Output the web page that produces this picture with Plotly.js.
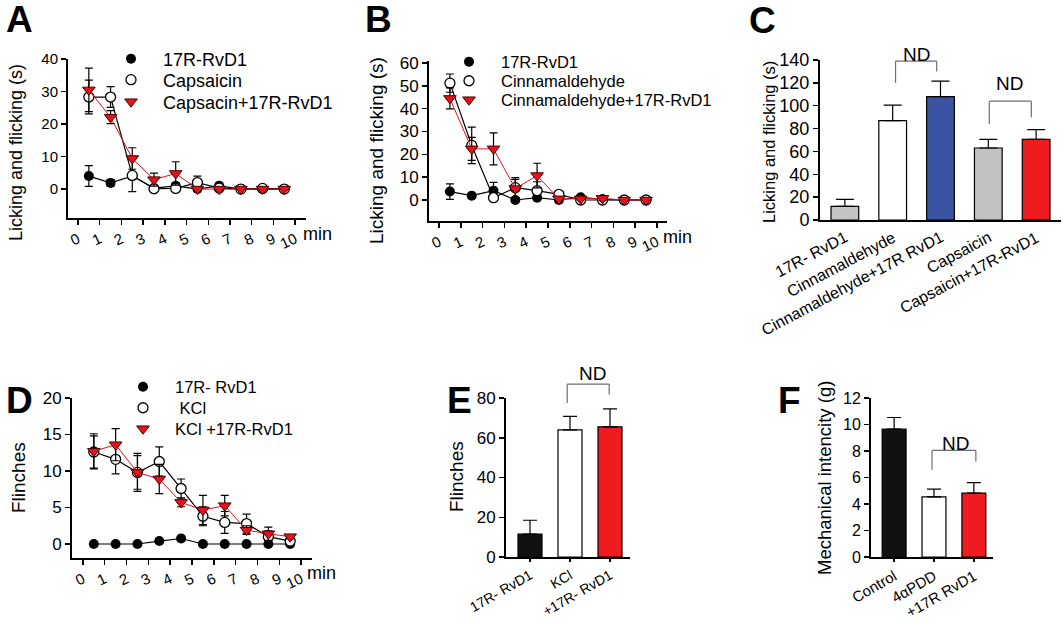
<!DOCTYPE html>
<html><head><meta charset="utf-8">
<script src="https://cdn.plot.ly/plotly-3.0.1.min.js"></script>
<style>html,body{margin:0;padding:0;background:#fff}#chart{width:1063px;height:621px}</style>
</head><body><div id="chart"></div>
<script>
const W = 1063, H = 621;
const FONT = 'Liberation Sans, Arial, sans-serif';

// ---------- shared ----------
const timeMin = [0.5, 1.5, 2.5, 3.5, 4.5, 5.5, 6.5, 7.5, 8.5, 9.5];
const timeTicks = [0, 1, 2, 3, 4, 5, 6, 7, 8, 9, 10];

// ---------- Panel A ----------
const aNames = ['17R-RvD1', 'Capsaicin', 'Capsacin+17R-RvD1'];
const aRvd1 = [4.0, 1.9, 4.0, 0.3, 1.0, 0.0, 1.0, 0.0, 0.0, 0.0];
const aRvd1Err = [3.2, 1.0, 1.0, 0.5, 0.8, 0.3, 0.8, 0.0, 0.0, 0.0];
const aCaps = [28.3, 28.3, 4.2, 0.1, 0.2, 2.0, 0.3, 0.0, 0.2, 0.0];
const aCapsErr = [5.2, 3.2, 5.0, 0.5, 0.5, 2.0, 0.5, 0.0, 0.0, 0.0];
const aComb = [30.5, 22.1, 9.4, 2.9, 4.8, 0.0, 0.0, 0.0, 0.0, 0.0];
const aCombErr = [6.7, 2.0, 3.3, 2.0, 3.6, 0.3, 0.3, 0.0, 0.0, 0.0];

// ---------- Panel B ----------
const bNames = ['17R-RvD1', 'Cinnamaldehyde', 'Cinnamaldehyde+17R-RvD1'];
const bRvd1 = [3.7, 1.9, 4.1, 0.0, 1.0, 0.0, 1.2, 0.3, 0.0, 0.0];
const bRvd1Err = [3.4, 0.8, 3.6, 0.5, 0.8, 0.3, 0.5, 0.3, 0.0, 0.0];
const bCinn = [51.2, 23.9, 1.0, 5.4, 4.1, 2.5, 0.0, 0.0, 0.0, 0.0];
const bCinnErr = [4.0, 8.0, 1.0, 4.4, 3.9, 1.2, 0.5, 0.5, 0.0, 0.0];
const bComb = [44.5, 22.4, 22.4, 5.0, 10.7, 0.5, 0.5, 0.7, 0.0, 0.0];
const bCombErr = [4.6, 5.0, 7.0, 4.0, 5.4, 0.5, 0.5, 1.0, 0.0, 0.0];

// ---------- Panel C ----------
const cCats = ['17R- RvD1', 'Cinnamaldehyde', 'Cinnamaldehyde+17R RvD1', 'Capsaicin', 'Capsaicin+17R-RvD1'];
const cVals = [12, 87, 108, 63, 70.5];
const cErr = [6, 13.5, 13.5, 7.5, 8.5];
const cColors = ['#c4c4c4', '#ffffff', '#3a54a2', '#c2c2c2', '#ee1c1f'];

// ---------- Panel D ----------
const dNames = ['17R- RvD1', '\u00a0KCl', 'KCl +17R-RvD1'];
const dRvd1 = [0, 0, 0, 0.4, 0.75, 0, 0, 0, 0, 0];
const dRvd1Err = [0, 0, 0, 0.3, 0.4, 0, 0, 0, 0, 0];
const dKcl = [12.6, 11.6, 9.8, 11.3, 7.6, 3.8, 2.95, 2.8, 1.0, 0.4];
const dKclErr = [2.2, 2.0, 2.3, 2.0, 1.3, 1.3, 1.5, 1.3, 0.8, 0.4];
const dComb = [12.7, 13.6, 9.8, 8.9, 5.7, 4.65, 5.25, 1.9, 1.4, 1.0];
const dCombErr = [2.4, 2.2, 2.6, 2.0, 0.6, 2.0, 1.4, 0.6, 0.9, 0.3];

// ---------- Panel E ----------
const eCats = ['17R- RvD1', 'KCl', '+17R- RvD1'];
const eVals = [11.5, 64, 65.5];
const eErr = [7, 6.8, 9];
const eColors = ['#111111', '#ffffff', '#ee1c1f'];

// ---------- Panel F ----------
const fCats = ['Control', '4\u03b1PDD', '+17R RvD1'];
const fVals = [9.65, 4.54, 4.82];
const fErr = [0.88, 0.58, 0.8];
const fColors = ['#111111', '#ffffff', '#ee1c1f'];

// ---------- styles ----------
const STY = {
  filled: {marker: {symbol: 'circle', size: 10, color: '#000'}, line: {color: '#000', width: 1.2}},
  open: {marker: {symbol: 'circle', size: 10, color: '#fff', line: {color: '#000', width: 1.3}}, line: {color: '#000', width: 1.2}},
  red: {marker: {symbol: 'triangle-down', size: 11, color: '#e3121b', line: {color: '#4a0000', width: 1}}, line: {color: '#e3121b', width: 1}}
};

// ---------- axes / panel geometry ----------
const panels = {
  1: {xd: [68, 306], yd: [59, 218], xr: [-0.46, 10.5], yr: [-8.9, 40], yt: [0, 10, 20, 30, 40], tf: 15, xf: 15, line: true},
  2: {xd: [429, 667], yd: [61, 221], xr: [-0.46, 10.46], yr: [-9.2, 60.9], yt: [0, 10, 20, 30, 40, 50, 60], tf: 17, xf: 15, line: true},
  3: {xd: [820, 1061], yd: [60, 220], xr: [-0.52, 4.52], yr: [0, 140], yt: [0, 20, 40, 60, 80, 100, 120, 140], tf: 18, xf: 16, line: false, xticks: '', ownLabels: true, cap: 9},
  4: {xd: [72, 312], yd: [398, 558], xr: [-0.5, 10.5], yr: [-1.92, 20], yt: [0, 5, 10, 15, 20], tf: 17, xf: 15, line: true},
  5: {xd: [506, 630], yd: [398, 557], xr: [-0.6, 2.5], yr: [0, 80], yt: [0, 20, 40, 60, 80], tf: 17, xf: 14, line: false, xticks: 'outside', cap: 7},
  6: {xd: [871, 993], yd: [398, 557], xr: [-0.58, 2.48], yr: [0, 12], yt: [0, 2, 4, 6, 8, 10, 12], tf: 16, xf: 15, line: false, xticks: 'outside', cap: 7}
};
// data -> pixel position, through each panel's axis range and domain
function toPaper(k, xv, yv) {
  const p = panels[k];
  const fx = (xv - p.xr[0]) / (p.xr[1] - p.xr[0]);
  const fy = (yv - p.yr[0]) / (p.yr[1] - p.yr[0]);
  const px = p.xd[0] + fx * (p.xd[1] - p.xd[0]);
  const py = p.yd[1] - fy * (p.yd[1] - p.yd[0]);
  return [px, py];
}

const traces = [];
function lineTrace(ax, y, err, kind) {
  traces.push({
    type: 'scatter', mode: 'lines+markers', x: timeMin, y: y,
    xaxis: 'x' + ax, yaxis: 'y' + ax, showlegend: false,
    marker: STY[kind].marker, line: STY[kind].line,
    error_y: {type: 'data', array: err, visible: true, color: '#000', thickness: 1.2, width: 4}
  });
}
let legendCount = 0;
const legends = {};
function legendItem(name, kind, mx, my, fs) {
  legendCount++;
  const key = legendCount === 1 ? 'legend' : 'legend' + legendCount;
  traces.push({type: 'scatter', mode: 'markers', x: [null], y: [null], name: name,
    marker: STY[kind].marker, legend: key, showlegend: true, hoverinfo: 'skip'});
  legends[key] = {x: (mx - 34) / W, y: 1 - my / H, xanchor: 'left', yanchor: 'middle',
    bgcolor: 'rgba(0,0,0,0)', borderwidth: 0, itemwidth: 54,
    font: {family: FONT, size: fs, color: '#000'}};
}
function barTrace(ax, cats, vals, err, colors, w) {
  traces.push({type: 'bar', x: cats, y: vals, xaxis: 'x' + ax, yaxis: 'y' + ax, showlegend: false,
    width: w, marker: {color: colors, line: {color: '#000', width: 1.2}},
    error_y: {type: 'data', symmetric: false, array: err, arrayminus: err.map(() => 0), color: '#000',
      thickness: 1.2, width: panels[ax].cap}});
}

lineTrace(1, aRvd1, aRvd1Err, 'filled');
lineTrace(1, aCaps, aCapsErr, 'open');
lineTrace(1, aComb, aCombErr, 'red');
lineTrace(2, bRvd1, bRvd1Err, 'filled');
lineTrace(2, bCinn, bCinnErr, 'open');
lineTrace(2, bComb, bCombErr, 'red');
barTrace(3, cCats, cVals, cErr, cColors, 0.58);
lineTrace(4, dRvd1, dRvd1Err, 'filled');
lineTrace(4, dKcl, dKclErr, 'open');
lineTrace(4, dComb, dCombErr, 'red');
barTrace(5, eCats, eVals, eErr, eColors, 0.6);
barTrace(6, fCats, fVals, fErr, fColors, 0.6);

const kinds = ['filled', 'open', 'red'];
[[aNames, 133, [59, 80, 102], 18], [bNames, 471, [62, 81, 100], 16.5], [dNames, 145, [387, 408, 429], 16.5]].forEach(([names, mx, rows, fs]) => {
  names.forEach((n, i) => legendItem(n, kinds[i], mx, rows[i], fs));
});

const layout = {
  width: W, height: H, margin: {l: 0, r: 0, t: 0, b: 0},
  paper_bgcolor: '#fff', plot_bgcolor: 'rgba(0,0,0,0)',
  font: {family: FONT, color: '#000'},
  showlegend: true, bargap: 0,
  annotations: [], shapes: []
};
Object.assign(layout, legends);

Object.keys(panels).forEach(k => {
  const p = panels[k];
  const xa = {
    domain: [p.xd[0] / W, p.xd[1] / W], range: p.xr, anchor: 'y' + k,
    showline: true, linecolor: '#000', linewidth: 2, showgrid: false, zeroline: false,
    tickfont: {family: FONT, size: p.xf, color: '#000'}, fixedrange: true
  };
  if (p.line) {
    Object.assign(xa, {tickmode: 'array', tickvals: timeTicks, ticktext: timeTicks.map(String),
      ticks: 'outside', ticklen: 5, tickwidth: 1.5, tickcolor: '#000', tickangle: -25});
  } else {
    Object.assign(xa, {type: 'category', ticks: p.xticks, ticklen: 3, tickwidth: 1.5, tickcolor: '#000',
      tickangle: -30, showticklabels: !p.ownLabels});
  }
  const ya = {
    domain: [1 - p.yd[1] / H, 1 - p.yd[0] / H], range: p.yr, anchor: 'x' + k,
    showline: true, linecolor: '#000', linewidth: 2, showgrid: false, zeroline: false,
    tickmode: 'array', tickvals: p.yt, ticks: 'outside', ticklen: 5, tickwidth: 1.5, tickcolor: '#000',
    tickfont: {family: FONT, size: p.tf, color: '#000'}, fixedrange: true
  };
  layout['xaxis' + (k === '1' ? '' : k)] = xa;
  layout['yaxis' + (k === '1' ? '' : k)] = ya;
});

// ---------- text annotations ----------
function paperText(text, px, py, size, opts) {
  layout.annotations.push(Object.assign({text: text, xref: 'paper', yref: 'paper', x: px / W, y: 1 - py / H,
    xanchor: 'center', yanchor: 'middle', showarrow: false, font: {family: FONT, size: size, color: '#000'}}, opts || {}));
}
// panel letters
[['A', 19, 19], ['B', 378, 19], ['C', 762, 20], ['D', 19, 400], ['E', 459, 400], ['F', 789, 400]].forEach(([t, x, y]) =>
  paperText('<b>' + t + '</b>', x, y, 37));
// axis titles
paperText('Licking and flicking (s)', 16, 153, 18, {textangle: -90});
paperText('Licking and flicking (s)', 377, 151, 19, {textangle: -90});
paperText('Licking and flicking (s)', 769, 142, 16.5, {textangle: -90});
paperText('Flinches', 18, 478, 19, {textangle: -90});
paperText('Flinches', 456, 477, 19, {textangle: -90});
paperText('Mechanical intencity (g)', 824, 478, 18.5, {textangle: -90});
// min labels
paperText('min', 317, 234, 18);
paperText('min', 677, 237, 18);
paperText('min', 321, 573, 18);

// panel C category labels (rotated, right end under each bar)
cCats.forEach((c, i) => {
  const [px, py] = toPaper(3, i, 0);
  paperText(c, px + 8, py + 6, 16, {textangle: -28, xanchor: 'right', yanchor: 'top'});
});

// ---------- ND brackets ----------
const ndBrackets = [
  {ax: 3, x1: 1.06, x2: 1.92, top: 139, l: 120, r: 130, tx: 1.5, ty: 145},
  {ax: 3, x1: 3.02, x2: 3.90, top: 104, l: 84, r: 90, tx: 3.44, ty: 119},
  {ax: 5, x1: 0.93, x2: 1.98, top: 87, l: 77.5, r: 81.7, tx: 1.55, ty: 92.5},
  {ax: 6, x1: 0.95, x2: 2.05, top: 8.04, l: 6.58, r: 7.2, tx: 1.53, ty: 8.55}
];
ndBrackets.forEach(b => {
  const ln = {color: '#6e6e6e', width: 1.2};
  const [ax1, ayl] = toPaper(b.ax, b.x1, b.l);
  const [ax2, ayr] = toPaper(b.ax, b.x2, b.r);
  const [, ayt] = toPaper(b.ax, b.x1, b.top);
  const seg = (x0, y0, x1, y1) => layout.shapes.push({type: 'line', xref: 'paper', yref: 'paper',
    x0: x0 / W, x1: x1 / W, y0: 1 - y0 / H, y1: 1 - y1 / H, line: ln});
  seg(ax1, ayl, ax1, ayt);
  seg(ax1, ayt, ax2, ayt);
  seg(ax2, ayr, ax2, ayt);
  const [tx, ty] = toPaper(b.ax, b.tx, b.ty);
  paperText('ND', tx, ty, 19);
});

Plotly.newPlot('chart', traces, layout, {staticPlot: true, displayModeBar: false});
</script>
</body></html>
